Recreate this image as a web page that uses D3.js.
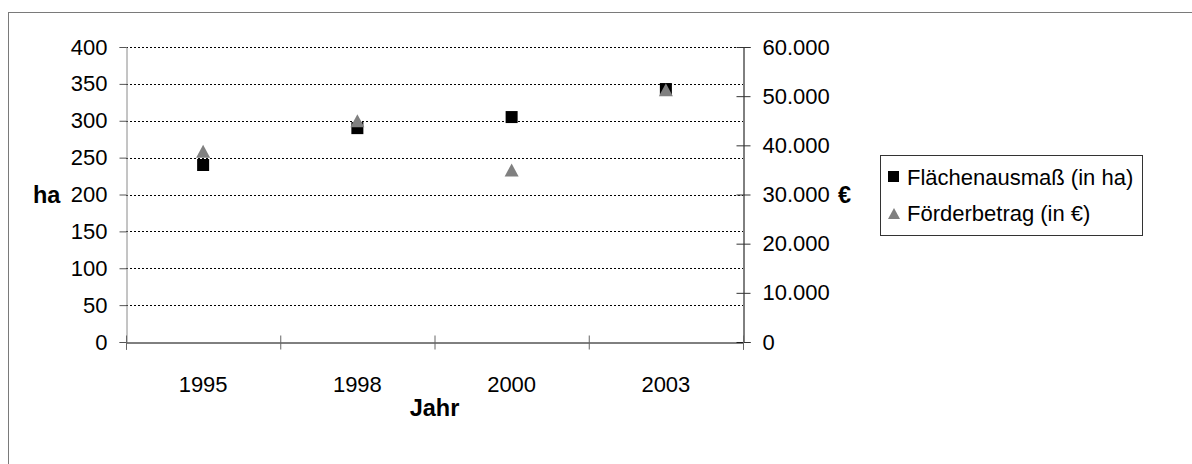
<!DOCTYPE html>
<html>
<head>
<meta charset="utf-8">
<script src="https://cdn.jsdelivr.net/npm/d3@7/dist/d3.min.js"></script>
<style>
  html, body { margin: 0; padding: 0; background: #fff; }
  svg { display: block; }
  text { font-family: "Liberation Sans", Arial, sans-serif; fill: #000; }
</style>
</head>
<body>
<svg id="chart" width="1192" height="464"></svg>
<script>
const years = ["1995", "1998", "2000", "2003"];
const flaeche = [240, 290, 305, 343];          // ha
const foerder = [38800, 45000, 35000, 51300];  // €
const leftTicks = [0, 50, 100, 150, 200, 250, 300, 350, 400];
const rightTicks = [0, 10000, 20000, 30000, 40000, 50000, 60000];
const seriesNames = ["Flächenausmaß (in ha)", "Förderbetrag (in €)"];

const svg = d3.select("#chart");
const W = 1192, H = 464;
const px0 = 126, px1 = 743, py0 = 47, py1 = 342;
const FS = 22, FT = 23.5;

svg.append("rect").attr("width", W).attr("height", H).attr("fill", "#fff");
// outer frame (cut off at right / bottom)
svg.append("rect").attr("x", 8.5).attr("y", 12.5).attr("width", 1400).attr("height", 700)
  .attr("fill", "none").attr("stroke", "#7a7a7a").attr("stroke-width", 1);

const x = d3.scaleBand().domain(years).range([px0, px1]).padding(0);
const yL = d3.scaleLinear().domain([0, 400]).range([py1, py0]);
const yR = d3.scaleLinear().domain([0, 60000]).range([py1, py0]);
const de = d3.formatLocale({decimal: ",", thousands: ".", grouping: [3], currency: ["", "€"]});
const fmtR = de.format(",.0f");

// gridlines
svg.append("g").selectAll("line").data(leftTicks.filter(d => d > 0)).join("line")
  .attr("x1", px0).attr("x2", px1)
  .attr("y1", d => Math.round(yL(d)) + 0.5).attr("y2", d => Math.round(yL(d)) + 0.5)
  .attr("stroke", "#000").attr("stroke-width", 1).attr("stroke-dasharray", "2,2");

// left axis
const gL = svg.append("g").attr("transform", `translate(${px0 + 0.5},0)`)
  .call(d3.axisLeft(yL).tickValues(leftTicks).tickSize(7).tickPadding(12));
gL.select(".domain").attr("stroke", "#8a8a8a");
gL.selectAll(".tick line").attr("stroke", "#555");
gL.selectAll(".tick text").attr("font-size", FS).attr("font-family", "Liberation Sans, Arial, sans-serif").attr("fill", "#000");

// right axis
const gR = svg.append("g").attr("transform", `translate(${px1 + 0.5},0)`)
  .call(d3.axisRight(yR).tickValues(rightTicks).tickSize(7).tickPadding(12).tickFormat(fmtR));
gR.select(".domain").attr("stroke", "#000");
gR.selectAll(".tick line").attr("x1", -7).attr("stroke", "#333");
gR.selectAll(".tick text").attr("font-size", FS).attr("font-family", "Liberation Sans, Arial, sans-serif").attr("fill", "#000");

// bottom axis
const xb = d3.scaleLinear().domain([0, years.length]).range([px0, px1]);
const gB = svg.append("g").attr("transform", `translate(0,${py1 + 0.5})`)
  .call(d3.axisBottom(xb).tickValues(d3.range(years.length + 1)).tickSize(7).tickFormat(""));
gB.select(".domain").attr("stroke", "#000");
gB.selectAll(".tick line").attr("y1", -7).attr("stroke", "#666");
svg.append("g").selectAll("text").data(years).join("text")
  .attr("x", d => x(d) + x.bandwidth() / 2).attr("y", 384)
  .attr("text-anchor", "middle").attr("dominant-baseline", "central")
  .attr("font-size", FS).text(d => d);

// axis titles
svg.append("text").attr("x", 33).attr("y", yL(200)).attr("dominant-baseline", "central")
  .attr("font-size", FT).attr("font-weight", "bold").text("ha");
svg.append("text").attr("x", 838).attr("y", yR(30000)).attr("dominant-baseline", "central")
  .attr("font-size", FT).attr("font-weight", "bold").text("€");
svg.append("text").attr("x", (px0 + px1) / 2).attr("y", 408).attr("text-anchor", "middle")
  .attr("dominant-baseline", "central").attr("font-size", FT).attr("font-weight", "bold").text("Jahr");

// markers
const cx = d => x(d) + x.bandwidth() / 2;
svg.append("g").selectAll("rect").data(years).join("rect")
  .attr("x", (d) => cx(d) - 6).attr("y", (d, i) => yL(flaeche[i]) - 6)
  .attr("width", 12).attr("height", 12).attr("fill", "#000");
svg.append("g").selectAll("path").data(years).join("path")
  .attr("transform", (d, i) => `translate(${cx(d)},${yR(foerder[i])})`)
  .attr("d", "M0,-6.5L7,6.5L-7,6.5Z").attr("fill", "#808080");

// legend
const lg = svg.append("g");
lg.append("rect").attr("x", 880.5).attr("y", 155.5).attr("width", 262).attr("height", 80)
  .attr("fill", "#fff").attr("stroke", "#333");
lg.append("rect").attr("x", 888).attr("y", 171).attr("width", 11).attr("height", 11).attr("fill", "#000");
lg.append("path").attr("d", "M894,208L900,219L888,219Z").attr("fill", "#808080");
lg.selectAll("text.l").data(seriesNames).join("text").attr("class", "l")
  .attr("x", 907).attr("y", (d, i) => 177 + i * 36).attr("dominant-baseline", "central")
  .attr("font-size", FS).text(d => d);
</script>
</body>
</html>
